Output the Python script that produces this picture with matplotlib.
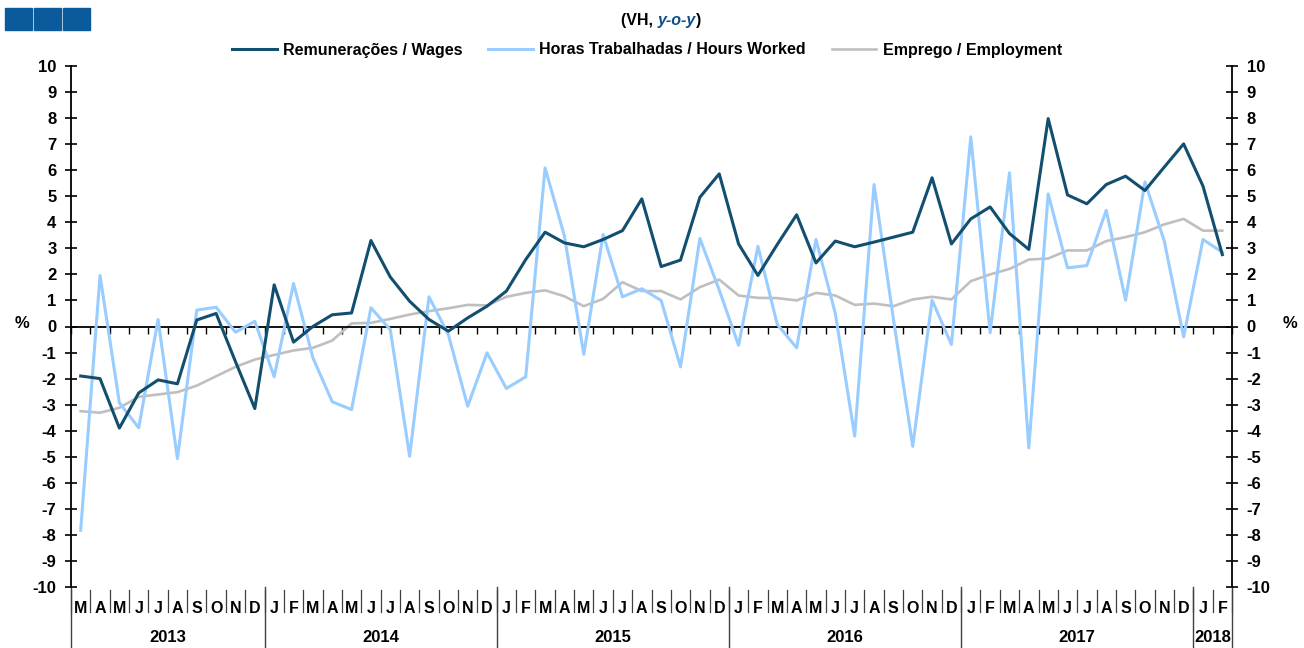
import numpy as np
import matplotlib
matplotlib.use('Agg')
import matplotlib.pyplot as plt
from matplotlib.patches import Rectangle

plt.rcParams['font.family'] = ['Liberation Sans', 'DejaVu Sans']
plt.rcParams['font.weight'] = 'bold'
plt.rcParams['axes.unicode_minus'] = False

# --- Data: Mar 2013 .. Feb 2018, y-o-y % ---
months = ['M', 'A', 'M', 'J', 'J', 'A', 'S', 'O', 'N', 'D'] + \
         ['J', 'F', 'M', 'A', 'M', 'J', 'J', 'A', 'S', 'O', 'N', 'D'] * 4 + ['J', 'F']
years = ['2013', '2014', '2015', '2016', '2017', '2018']
year_counts = [10, 12, 12, 12, 12, 2]

wages = [-1.9, -2.0, -3.9, -2.55, -2.05, -2.2, 0.25, 0.5, -1.35, -3.15,
         1.6, -0.6, 0.0, 0.45, 0.52, 3.3, 1.9, 0.97, 0.27, -0.18, 0.33, 0.78,
         1.36, 2.57, 3.62, 3.21, 3.06, 3.34, 3.68, 4.9, 2.3, 2.55, 4.96, 5.86,
         3.17, 1.96, 3.15, 4.29, 2.44, 3.28, 3.06, 3.24, 3.43, 3.62, 5.71, 3.17,
         4.13, 4.59, 3.57, 2.96, 7.98, 5.05, 4.71, 5.45, 5.77, 5.22, 6.12, 7.01,
         5.39, 2.76]
hours = [-7.82, 1.96, -2.93, -3.89, 0.27, -5.07, 0.63, 0.74, -0.22, 0.2,
         -1.93, 1.65, -1.2, -2.89, -3.19, 0.72, -0.12, -4.98, 1.14, -0.31, -3.06, -1.01,
         -2.38, -1.93, 6.09, 3.47, -1.07, 3.53, 1.14, 1.45, 1.0, -1.55, 3.38, 1.4,
         -0.72, 3.08, 0.08, -0.82, 3.34, 0.5, -4.21, 5.45, 0.3, -4.6, 1.01, -0.69,
         7.28, -0.24, 5.9, -4.66, 5.09, 2.25, 2.34, 4.46, 1.01, 5.55, 3.28, -0.4,
         3.34, 2.85]
employment = [-3.25, -3.31, -3.12, -2.7, -2.61, -2.52, -2.27, -1.91, -1.55, -1.27,
              -1.09, -0.92, -0.82, -0.54, 0.12, 0.14, 0.29, 0.46, 0.59, 0.7, 0.83, 0.81,
              1.14, 1.29, 1.39, 1.16, 0.78, 1.06, 1.7, 1.36, 1.36, 1.04, 1.51, 1.8,
              1.19, 1.1, 1.09, 1.0, 1.29, 1.19, 0.83, 0.88, 0.78, 1.04, 1.14, 1.04,
              1.74, 2.0, 2.21, 2.57, 2.61, 2.92, 2.92, 3.28, 3.43, 3.62, 3.92, 4.13,
              3.68, 3.68]

x = np.arange(len(months))

W, H = 1304, 648
fig = plt.figure(figsize=(W / 100, H / 100), dpi=100)
ax = fig.add_axes([71 / W, 1 - 587 / H, (1232 - 71) / W, (587 - 66) / H])

l1, = ax.plot(x, wages, color='#124F6E', lw=2.2, label='Remunerações / Wages', zorder=4)
l2, = ax.plot(x, hours, color='#99CCFF', lw=2.2, label='Horas Trabalhadas / Hours Worked', zorder=3)
l3, = ax.plot(x, employment, color='#BFBFBF', lw=1.9, label='Emprego / Employment', zorder=2)

ax.set_xlim(-0.5, len(months) - 0.5)
ax.set_ylim(-10, 10)
ax.set_yticks(np.arange(-10, 11, 1))
ax.tick_params(axis='y', which='both', left=True, right=True, labelleft=True,
               labelright=True, direction='inout', length=9, width=1.2,
               labelsize=12, pad=6)

ax.spines['top'].set_visible(False)
ax.spines['bottom'].set_position(('data', 0))
for s in ['left', 'right', 'bottom']:
    ax.spines[s].set_linewidth(1.3)
ax.set_xticks(np.arange(-0.5, len(months), 1))
ax.set_xticklabels([])
ax.tick_params(axis='x', direction='out', length=5, width=1.0)

# month / year labels under the plot
tr = ax.get_xaxis_transform()
for i, m in enumerate(months):
    ax.text(i, -0.041, m, transform=tr, ha='center', va='center',
            fontsize=11.5, fontweight='bold')
for i in range(len(months) + 1):
    ax.plot([i - 0.5, i - 0.5], [-0.005, -0.048], transform=tr, color='#404040',
            lw=0.9, clip_on=False)
start = 0
for yr, n in zip(years, year_counts):
    ax.plot([start - 0.5, start - 0.5], [0, -0.118], transform=tr, color='#404040',
            lw=1.0, clip_on=False)
    ax.text(start - 0.5 + n / 2, -0.097, yr, transform=tr, ha='center', va='center',
            fontsize=12, fontweight='bold')
    start += n
ax.plot([start - 0.5, start - 0.5], [0, -0.118], transform=tr, color='#404040',
        lw=1.0, clip_on=False)

fig.text(22 / W, 1 - 323 / H, '%', ha='center', va='center', fontsize=12, fontweight='bold')
fig.text(1290 / W, 1 - 323 / H, '%', ha='center', va='center', fontsize=12, fontweight='bold')

# header "(VH, y-o-y)" in three pieces placed side by side
renderer = fig.canvas.get_renderer()
x_px = 621
for piece, kw in [('(VH,\u00a0', {}),
                  ('y-o-y', {'style': 'italic', 'color': '#0B4F8C'}),
                  (')', {})]:
    t = fig.text(x_px / W, 1 - 20 / H, piece, ha='left', va='center',
                 fontsize=11.5, fontweight='bold', **kw)
    x_px += t.get_window_extent(renderer).width

for x0 in [5, 34, 63]:
    fig.patches.append(Rectangle((x0 / W, 1 - 30 / H), 27 / W, 22 / H,
                                 transform=fig.transFigure, color='#0A5A9C'))

fig.legend(handles=[l1, l2, l3], loc='center', bbox_to_anchor=(647 / W, 1 - 50 / H),
           ncol=3, frameon=False, prop={'weight': 'bold', 'size': 11.5},
           handlelength=2.8, columnspacing=1.6, handletextpad=0.4)

fig.savefig('out.png', dpi=100)
